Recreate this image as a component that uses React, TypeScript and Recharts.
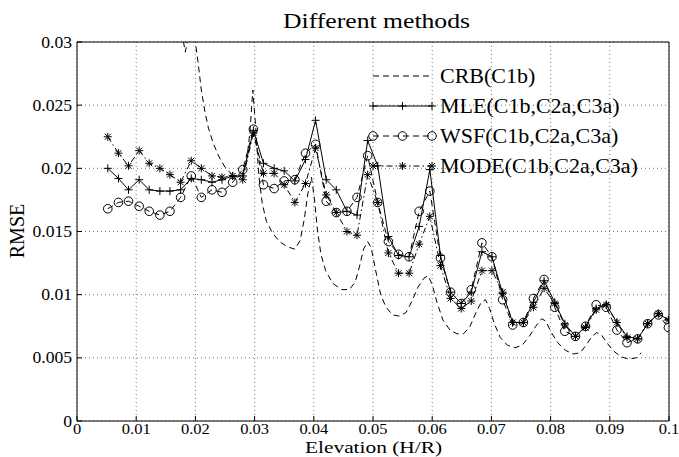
import { LineChart, Line, XAxis, YAxis, CartesianGrid } from 'recharts'

const FONT = '"Liberation Serif", "Times New Roman", serif'

const xTicks = [0, 0.01, 0.02, 0.03, 0.04, 0.05, 0.06, 0.07, 0.08, 0.09, 0.1]
const yTicks = [0, 0.005, 0.01, 0.015, 0.02, 0.025, 0.03]

// elevation grid shared by the three estimators
const elevation = [
  0.0052, 0.0070, 0.0087, 0.0105, 0.0122, 0.0140, 0.0157, 0.0175, 0.0193, 0.0210,
  0.0228, 0.0245, 0.0263, 0.0280, 0.0298, 0.0315, 0.0333, 0.0350, 0.0368, 0.0386,
  0.0403, 0.0421, 0.0438, 0.0456, 0.0473, 0.0491, 0.0508, 0.0526, 0.0543, 0.0561,
  0.0578, 0.0596, 0.0614, 0.0631, 0.0649, 0.0666, 0.0684, 0.0701, 0.0719, 0.0736,
  0.0754, 0.0771, 0.0789, 0.0807, 0.0824, 0.0842, 0.0859, 0.0877, 0.0894, 0.0912,
  0.0929, 0.0947, 0.0964, 0.0982, 0.0999
]

const mle = [
  0.0200, 0.0192, 0.0183, 0.0191, 0.0183, 0.0182, 0.0182, 0.0183, 0.0192, 0.0191,
  0.0189, 0.0191, 0.0194, 0.0194, 0.0230, 0.0204, 0.0200, 0.0198, 0.0190, 0.0207,
  0.0238, 0.0191, 0.0183, 0.0166, 0.0163, 0.0222, 0.0202, 0.0146, 0.0131, 0.0130,
  0.0154, 0.0199, 0.0131, 0.0102, 0.0093, 0.0102, 0.0134, 0.0130, 0.0101, 0.0078,
  0.0078, 0.0094, 0.0111, 0.0094, 0.0077, 0.0067, 0.0075, 0.0089, 0.0092, 0.0078,
  0.0067, 0.0065, 0.0077, 0.0085, 0.0080
]

const wsf = [
  0.0168, 0.0173, 0.0174, 0.0170, 0.0166, 0.0163, 0.0166, 0.0177, 0.0194, 0.0177,
  0.0183, 0.0181, 0.0189, 0.0199, 0.0231, 0.0187, 0.0184, 0.0190, 0.0191, 0.0212,
  0.0219, 0.0174, 0.0165, 0.0166, 0.0177, 0.0210, 0.0173, 0.0142, 0.0132, 0.0130,
  0.0166, 0.0182, 0.0129, 0.0102, 0.0093, 0.0104, 0.0141, 0.0130, 0.0096, 0.0076,
  0.0078, 0.0097, 0.0112, 0.0090, 0.0071, 0.0067, 0.0075, 0.0092, 0.0090, 0.0072,
  0.0062, 0.0065, 0.0077, 0.0084, 0.0074
]

const mode = [
  0.0225, 0.0212, 0.0202, 0.0214, 0.0204, 0.0200, 0.0195, 0.0189, 0.0206, 0.0200,
  0.0194, 0.0193, 0.0194, 0.0191, 0.0228, 0.0196, 0.0196, 0.0187, 0.0173, 0.0188,
  0.0216, 0.0179, 0.0165, 0.0150, 0.0147, 0.0195, 0.0173, 0.0133, 0.0117, 0.0117,
  0.0140, 0.0162, 0.0123, 0.0097, 0.0089, 0.0095, 0.0119, 0.0119, 0.0102, 0.0078,
  0.0078, 0.0090, 0.0105, 0.0093, 0.0076, 0.0067, 0.0074, 0.0088, 0.0092, 0.0078,
  0.0066, 0.0065, 0.0077, 0.0085, 0.0080
]

// CRB bound, finer sampling
const crbElevation = [
  0.0172, 0.0178, 0.0183, 0.0188, 0.0194, 0.0200, 0.0205, 0.0210, 0.0216, 0.0222,
  0.0230, 0.0240, 0.0250, 0.0262, 0.0272, 0.0280, 0.0287, 0.0292, 0.0297, 0.0302,
  0.0307, 0.0313, 0.0320, 0.0330, 0.0342, 0.0355, 0.0368, 0.0377, 0.0384, 0.0390,
  0.0396, 0.0401, 0.0406, 0.0412, 0.0420, 0.0432, 0.0447, 0.0460, 0.0470, 0.0477,
  0.0484, 0.0491, 0.0497, 0.0505, 0.0513, 0.0522, 0.0533, 0.0545, 0.0556, 0.0566,
  0.0576, 0.0586, 0.0593, 0.0600, 0.0608, 0.0618, 0.0630, 0.0642, 0.0653, 0.0664,
  0.0675, 0.0683, 0.0690, 0.0697, 0.0705, 0.0715, 0.0727, 0.0740, 0.0752, 0.0764,
  0.0775, 0.0785, 0.0792, 0.0800, 0.0812, 0.0825, 0.0838, 0.0850, 0.0860, 0.0870,
  0.0878, 0.0886, 0.0895, 0.0905, 0.0918, 0.0932, 0.0945, 0.0953
]

const crb = [
  0.0340, 0.0305, 0.0292, 0.0305, 0.0345, 0.0300, 0.0282, 0.0262, 0.0245, 0.0232,
  0.0220, 0.0209, 0.0201, 0.0195, 0.0193, 0.0196, 0.0208, 0.0228, 0.0262, 0.0232,
  0.0195, 0.0172, 0.0158, 0.0149, 0.0142, 0.0138, 0.0136, 0.0143, 0.0160, 0.0180,
  0.0193, 0.0176, 0.0152, 0.0132, 0.0119, 0.0109, 0.0104, 0.0104, 0.0110, 0.0122,
  0.0136, 0.0142, 0.0137, 0.0118, 0.0100, 0.0090, 0.0084, 0.0083, 0.0086, 0.0095,
  0.0106, 0.0113, 0.0115, 0.0108, 0.0094, 0.0080, 0.0072, 0.0069, 0.0069, 0.0075,
  0.0087, 0.0094, 0.0096, 0.0089, 0.0077, 0.0066, 0.0060, 0.0058, 0.0060, 0.0067,
  0.0075, 0.0081, 0.0079, 0.0071, 0.0062, 0.0056, 0.0053, 0.0054, 0.0060, 0.0067,
  0.0070, 0.0068, 0.0062, 0.0056, 0.0051, 0.0049, 0.0050, 0.0054
]

const legendNames = ['CRB(C1b)', 'MLE(C1b,C2a,C3a)', 'WSF(C1b,C2a,C3a)', 'MODE(C1b,C2a,C3a)']

const toPoints = (xs: number[], ys: number[]) => xs.map((x, i) => ({ x, y: ys[i] }))

const DASH = '6 4'
const DASHDOT = '6 3 1.5 3'

// marker shapes (matlab style)
const Plus = ({ cx, cy }: { cx: number; cy: number }) => (
  <path d={`M${cx - 4},${cy}h8M${cx},${cy - 4}v8`} stroke="#000" strokeWidth={1} fill="none" />
)
const Ring = ({ cx, cy }: { cx: number; cy: number }) => (
  <circle cx={cx} cy={cy} r={4.3} stroke="#000" strokeWidth={1} fill="none" />
)
const Star = ({ cx, cy }: { cx: number; cy: number }) => (
  <path
    d={`M${cx - 4},${cy}h8M${cx},${cy - 4}v8M${cx - 3},${cy - 3}l6,6M${cx - 3},${cy + 3}l6,-6`}
    stroke="#000"
    strokeWidth={1}
    fill="none"
  />
)

const XTick = ({ x, y, payload }: any) => (
  <g transform={`translate(${x},${y})`}>
    <text transform="scale(1.1,1)" textAnchor="middle" dy="0.71em" fontSize={15} fontFamily={FONT} fill="#000">
      {String(payload.value)}
    </text>
  </g>
)

const YTick = ({ x, y, payload }: any) => (
  <g transform={`translate(${x},${y})`}>
    <text transform="scale(1.1,1)" textAnchor="end" dy="0.35em" fontSize={16} fontFamily={FONT} fill="#000">
      {String(payload.value)}
    </text>
  </g>
)

function LegendSample({ row, y }: { row: number; y: number }) {
  const xs = [373, 402.5, 432]
  if (row === 0) return <line x1={373} y1={y} x2={432} y2={y} stroke="#000" strokeDasharray={DASH} />
  const dash = row === 1 ? undefined : row === 2 ? DASH : DASHDOT
  const Marker = row === 1 ? Plus : row === 2 ? Ring : Star
  return (
    <g>
      <line x1={373} y1={y} x2={432} y2={y} stroke="#000" strokeDasharray={dash} />
      {xs.map(cx => <Marker key={cx} cx={cx} cy={y} />)}
    </g>
  )
}

export default function App() {
  const crbData = toPoints(crbElevation, crb)
  const mleData = toPoints(elevation, mle)
  const wsfData = toPoints(elevation, wsf)
  const modeData = toPoints(elevation, mode)

  return (
    <div style={{ position: 'absolute', left: 0, top: 0, width: 679, height: 457, background: '#fff' }}>
      <LineChart width={679} height={457} margin={{ top: 0, right: 0, bottom: 0, left: 0 }}>
        <CartesianGrid stroke="#777" strokeDasharray="1 3" />
        <XAxis
          dataKey="x"
          type="number"
          domain={[0, 0.1]}
          ticks={xTicks}
          allowDataOverflow
          height={36}
          stroke="#000"
          tickSize={-5}
          tickMargin={7}
          tick={<XTick />}
        />
        <XAxis
          xAxisId="top"
          orientation="top"
          type="number"
          domain={[0, 0.1]}
          ticks={xTicks}
          height={42}
          stroke="#000"
          tickSize={-5}
          tick={false}
        />
        <YAxis
          type="number"
          domain={[0, 0.03]}
          ticks={yTicks}
          allowDataOverflow
          width={77}
          stroke="#000"
          tickSize={-5}
          tickMargin={10}
          tick={<YTick />}
        />
        <YAxis
          yAxisId="right"
          orientation="right"
          type="number"
          domain={[0, 0.03]}
          ticks={yTicks}
          width={10}
          stroke="#000"
          tickSize={-5}
          tick={false}
        />
        <Line
          data={crbData}
          dataKey="y"
          type="linear"
          stroke="#000"
          strokeWidth={1}
          strokeDasharray={DASH}
          dot={false}
          activeDot={false}
          isAnimationActive={false}
        />
        <Line
          data={mleData}
          dataKey="y"
          type="linear"
          stroke="#000"
          strokeWidth={1}
          dot={(p: any) => <Plus key={`m${p.index}`} cx={p.cx} cy={p.cy} />}
          activeDot={false}
          isAnimationActive={false}
        />
        <Line
          data={wsfData}
          dataKey="y"
          type="linear"
          stroke="#000"
          strokeWidth={1}
          strokeDasharray={DASH}
          dot={(p: any) => <Ring key={`w${p.index}`} cx={p.cx} cy={p.cy} />}
          activeDot={false}
          isAnimationActive={false}
        />
        <Line
          data={modeData}
          dataKey="y"
          type="linear"
          stroke="#000"
          strokeWidth={1}
          strokeDasharray={DASHDOT}
          dot={(p: any) => <Star key={`s${p.index}`} cx={p.cx} cy={p.cy} />}
          activeDot={false}
          isAnimationActive={false}
        />
      </LineChart>

      {/* title, axis labels and legend drawn on top */}
      <svg width={679} height={457} style={{ position: 'absolute', left: 0, top: 0, pointerEvents: 'none' }}>
        <text x={376.5} y={28} textAnchor="middle" fontSize={20} fontFamily={FONT} textLength={187} lengthAdjust="spacingAndGlyphs">
          Different methods
        </text>
        <text x={373.5} y={452.5} textAnchor="middle" fontSize={16} fontFamily={FONT} textLength={137} lengthAdjust="spacingAndGlyphs">
          Elevation (H/R)
        </text>
        <text x={24} y={231} textAnchor="middle" fontSize={20} fontFamily={FONT} transform="rotate(-90 24 231)">
          RMSE
        </text>
        {legendNames.map((name, i) => {
          const y = 76 + i * 30
          return (
            <g key={name}>
              <LegendSample row={i} y={y} />
              <text x={0} y={0} transform={`translate(440 ${y + 6.5}) scale(1.1 1)`} fontSize={20} fontFamily={FONT}>
                {name}
              </text>
            </g>
          )
        })}
      </svg>
    </div>
  )
}
